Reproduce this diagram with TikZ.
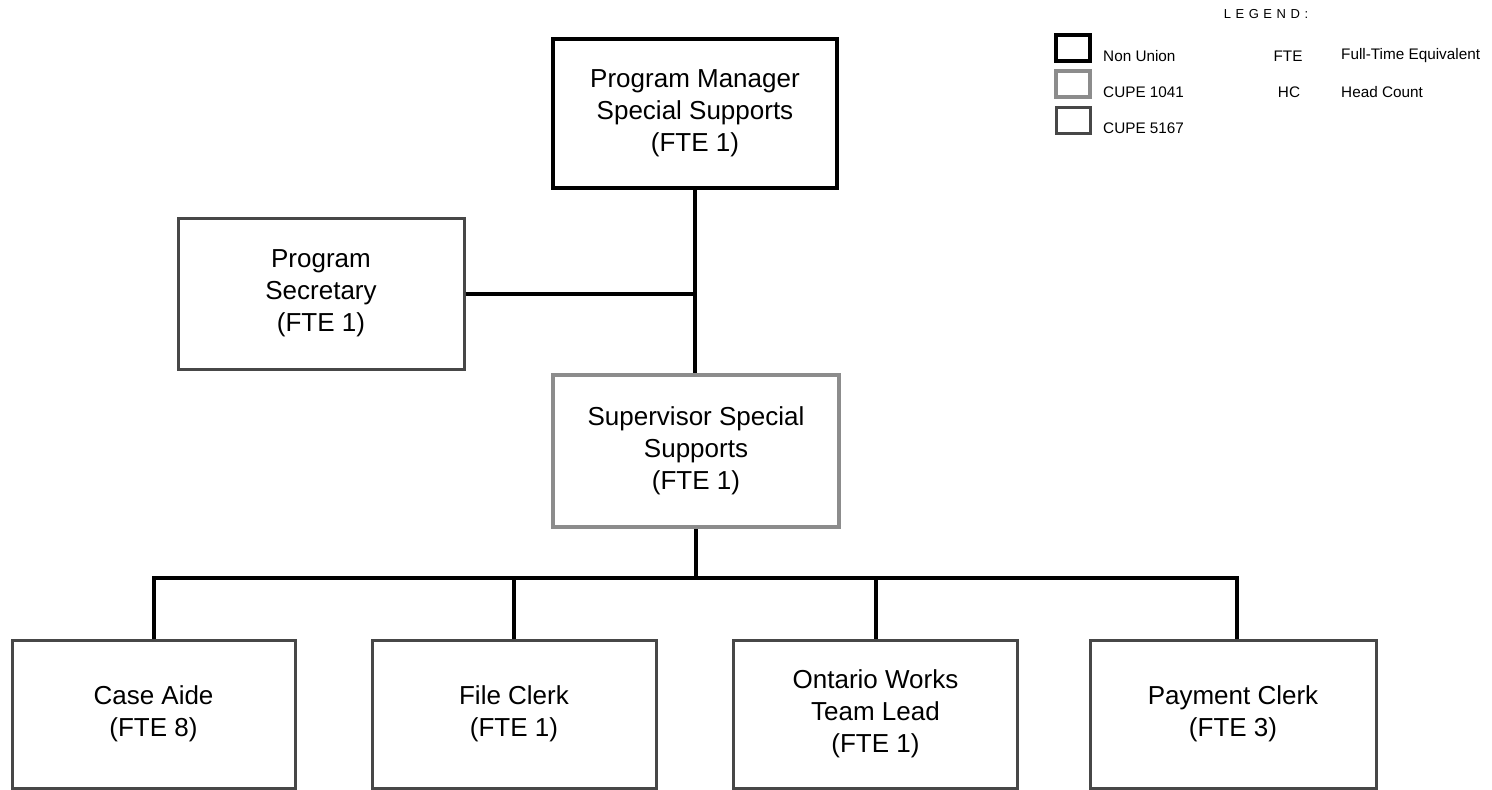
\documentclass[tikz,border=0pt]{standalone}
\usepackage{fontspec}
\setmainfont{Liberation Sans}
\begin{document}
\begin{tikzpicture}[x=1pt,y=-1pt,
  box/.style={rectangle, draw, align=center, minimum width=285pt, minimum height=150pt,
    inner sep=0pt, font=\fontsize{26}{32}\selectfont},
  nonunion/.style={box, draw=black, line width=4pt},
  cupeA/.style={box, draw=black!45, line width=3.5pt},
  cupeB/.style={box, draw=black!72, line width=3pt},
  conn/.style={line width=4pt, draw=black},
  legbox/.style={rectangle, minimum width=34pt, minimum height=26pt, inner sep=0pt},
  legtext/.style={anchor=west, inner sep=0pt, font=\fontsize{15.3}{18}\selectfont},
  legabbr/.style={inner sep=0pt, font=\fontsize{15.3}{18}\selectfont}]
\useasboundingbox (0,0) rectangle (1492,790);
\fill[white] (0,0) rectangle (1492,790);

% boxes
\node[nonunion, minimum width=284pt, minimum height=149pt] (pm) at (695,113.5) {Program Manager\\Special Supports\\(FTE 1)};
\node[cupeB, minimum width=286pt, minimum height=151pt] (sec) at (321,293.5) {Program\\Secretary\\(FTE 1)};
\node[cupeA, minimum width=286pt, minimum height=152pt] (sup) at (696,451) {Supervisor Special\\Supports\\(FTE 1)};
\node[cupeB, minimum width=283pt, minimum height=148pt] (ca) at (153.5,714) {Case Aide\\(FTE 8)};
\node[cupeB, minimum width=284pt, minimum height=148pt] (fc) at (514,714) {File Clerk\\(FTE 1)};
\node[cupeB, minimum width=284pt, minimum height=148pt] (ow) at (875.5,714) {Ontario Works\\Team Lead\\(FTE 1)};
\node[cupeB, minimum width=286pt, minimum height=148pt] (pc) at (1233,714) {Payment Clerk\\(FTE 3)};

% connectors
\coordinate (j) at (pm.south |- sec.east);
\draw[conn, line width=3.5pt] (pm.south) -- (pm.south |- sup.north);
\draw[conn] (sec.east) -- (j);
\coordinate (busL) at (153.5,578);
\coordinate (busR) at (1237,578);
\draw[conn] (sup.south) -- (sup.south |- busL);
\draw[conn] (ca.north) -- (busL) -- (busR) -- (busR |- pc.north);
\draw[conn] (fc.north) -- (fc.north |- busL);
\draw[conn] (ow.north) -- (ow.north |- busL);

% legend
\node[inner sep=0pt, font=\fontsize{13}{15}\selectfont\addfontfeature{LetterSpace=35}] (legt) at (1266,14) {LEGEND:};
\node[legbox, draw=black, line width=4pt] (lb1) at (1073,48) {};
\node[legbox, draw=black!45, line width=3.5pt] (lb2) at (1073,84) {};
\node[legbox, draw=black!72, line width=3pt] (lb3) at (1073,120) {};
\node[legtext] (lt1) at (1103,56) {Non Union};
\node[legtext] (lt2) at (1103,92) {CUPE 1041};
\node[legtext] (lt3) at (1103,128) {CUPE 5167};
\node[legabbr] (la1) at (1288,56) {FTE};
\node[legabbr] (la2) at (1289,92) {HC};
\node[legtext] (ld1) at (1341,56) {Full-Time Equivalent};
\node[legtext] (ld2) at (1341,92) {Head Count};
\end{tikzpicture}
\end{document}
